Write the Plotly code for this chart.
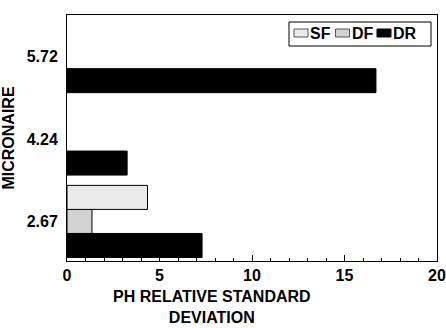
import plotly.graph_objects as go

categories = ["2.67", "4.24", "5.72"]
sf_values = [4.35, None, None]
df_values = [1.35, None, None]
dr_values = [7.3, 3.25, 16.7]
series_names = ["SF", "DF", "DR"]
series_colors = ["#ebebeb", "#d2d2d2", "#000000"]
x_title = "PH RELATIVE STANDARD<br>DEVIATION"

FONT = "Liberation Sans, Arial, sans-serif"
W, H = 446, 328
L, R, T, B = 67, 9, 15, 67
PW, PH = W - L - R, H - T - B


def px(x):
    return (x - L) / PW


def py(y):
    return (H - B - y) / PH


fig = go.Figure()
series_values = {"SF": sf_values, "DF": df_values, "DR": dr_values}
# plotted bottom-to-top: DR, DF, SF
for name in reversed(series_names):
    color = series_colors[series_names.index(name)]
    fig.add_trace(go.Bar(name=name, y=categories, x=series_values[name], orientation="h",
                         marker=dict(color=color, line=dict(color="#000000", width=1)),
                         showlegend=False))

fig.update_layout(
    width=W, height=H,
    margin=dict(l=L, r=R, t=T, b=B, autoexpand=False),
    paper_bgcolor="white", plot_bgcolor="white",
    barmode="group", bargap=0.125, bargroupgap=0,
    font=dict(family=FONT, size=16, color="black", weight="bold"),
    showlegend=False,
    xaxis=dict(range=[0, 20], tickvals=[0, 5, 10, 15, 20], ticks="inside", ticklen=6,
               tickcolor="black", showline=True, linecolor="black", linewidth=1, mirror=True,
               showgrid=False, zeroline=False, automargin=False,
               minor=dict(dtick=1, ticks="inside", ticklen=3, tickcolor="black"),
               tickfont=dict(size=16, weight="bold")),
    yaxis=dict(type="category", range=[-0.48, 2.505], ticks="", showline=True,
               linecolor="black", linewidth=1, mirror=True, showgrid=False, automargin=False,
               tickfont=dict(size=16, weight="bold"), ticklabelstandoff=5,
               title=dict(text="MICRONAIRE", font=dict(size=16, weight="bold"), standoff=12)),
)

# x-axis title (two lines)
fig.add_annotation(text=x_title, xref="paper", yref="paper",
                   x=px(212), y=py(307), xanchor="center", yanchor="middle",
                   showarrow=False, font=dict(size=16, weight="bold"))

# compact legend box (drawn manually)
fig.add_shape(type="rect", xref="paper", yref="paper",
              x0=px(289), x1=px(431), y0=py(22), y1=py(46),
              line=dict(color="black", width=1), fillcolor="white", layer="above")
for i, (name, color) in enumerate(zip(series_names, series_colors)):
    sx = 294 + 41.5 * i
    fig.add_shape(type="rect", xref="paper", yref="paper",
                  x0=px(sx), x1=px(sx + 14), y0=py(29), y1=py(37),
                  line=dict(color="#555555" if i < 2 else "black", width=1),
                  fillcolor=color, layer="above")
    fig.add_annotation(text=name, xref="paper", yref="paper",
                       x=px(sx + 14), y=py(33.5), xanchor="left", yanchor="middle",
                       showarrow=False, font=dict(size=16, weight="bold"))

fig.write_html("out.html")
